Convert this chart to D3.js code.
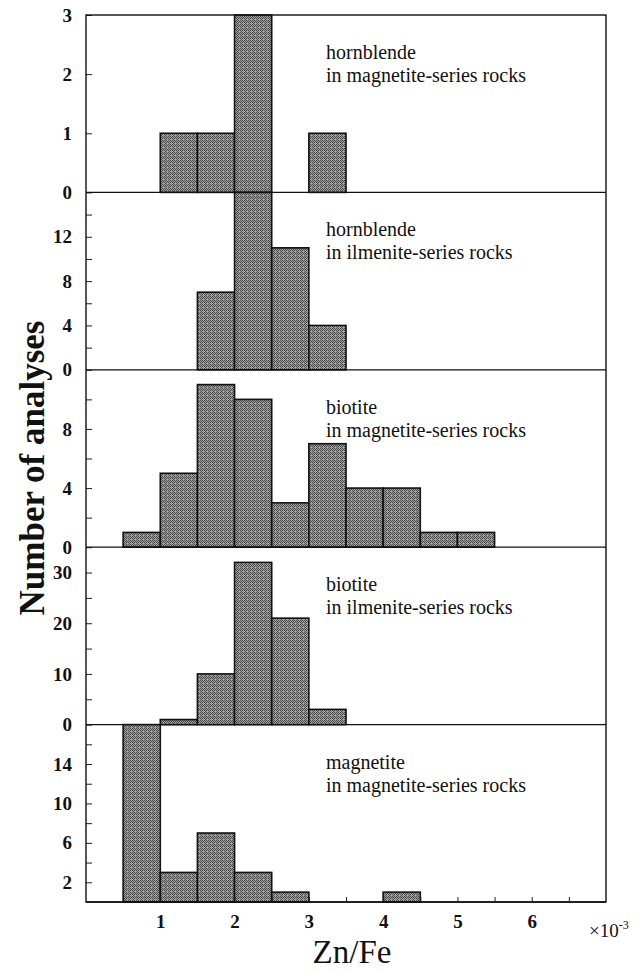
<!DOCTYPE html>
<html>
<head>
<meta charset="utf-8">
<script src="https://cdn.jsdelivr.net/npm/d3@7"></script>
<style>
  html, body { margin: 0; padding: 0; background: #fff; }
  svg { display: block; }
  text { font-family: "Liberation Serif", "Times New Roman", serif; fill: #111; }
</style>
</head>
<body>
<svg id="chart" width="641" height="972"></svg>
<script>
// Zn/Fe histograms, bin width 0.5 (x10^-3)
const binStarts = [0.5, 1.0, 1.5, 2.0, 2.5, 3.0, 3.5, 4.0, 4.5, 5.0];
const binWidth = 0.5;

const hornblendeMagnetite = [0, 1, 1, 3, 0, 1, 0, 0, 0, 0];
const hornblendeIlmenite  = [0, 0, 7, 16, 11, 4, 0, 0, 0, 0];
const biotiteMagnetite    = [1, 5, 11, 10, 3, 7, 4, 4, 1, 1];
const biotiteIlmenite     = [0, 1, 10, 32, 21, 3, 0, 0, 0, 0];
const magnetiteMagnetite  = [18, 3, 7, 3, 1, 0, 0, 1, 0, 0];

const panelMineral = ["hornblende", "hornblende", "biotite", "biotite", "magnetite"];
const panelSeries  = ["in magnetite-series rocks", "in ilmenite-series rocks",
                      "in magnetite-series rocks", "in ilmenite-series rocks",
                      "in magnetite-series rocks"];
const panelCounts  = [hornblendeMagnetite, hornblendeIlmenite, biotiteMagnetite,
                      biotiteIlmenite, magnetiteMagnetite];
const panelMax     = [3, 16, 12, 35, 18];
const panelTicks   = [[0, 1, 2, 3], [0, 4, 8, 12], [0, 4, 8], [0, 10, 20, 30], [2, 6, 10, 14]];
const panelMinor   = [[], [2, 6, 10, 14], [2, 6, 10], [5, 15, 25], [4, 8, 12, 16]];

const xTickLabels = [1, 2, 3, 4, 5, 6];
const xTickMarks  = [0.5, 1, 1.5, 2, 2.5, 3, 3.5, 4, 4.5, 5, 5.5, 6, 6.5];
const xDomain = [0, 7];

const svg = d3.select("#chart");
const plotLeft = 86, plotRight = 606, plotTop = 15, plotBottom = 902;
const panelH = (plotBottom - plotTop) / panelCounts.length;

const x = d3.scaleLinear().domain(xDomain).range([plotLeft, plotRight]);

// stippled grey fill for the bars
const defs = svg.append("defs");
const pat = defs.append("pattern")
  .attr("id", "stipple").attr("patternUnits", "userSpaceOnUse")
  .attr("width", 4).attr("height", 4);
pat.append("rect").attr("width", 4).attr("height", 4).attr("fill", "#a0a0a0");
[[0,0],[2,0],[1,1],[3,1],[0,2],[2,2],[1,3]].forEach(([px, py]) => {
  pat.append("rect").attr("x", px).attr("y", py).attr("width", 1).attr("height", 1).attr("fill", "#4a4a4a");
});

panelCounts.forEach((counts, i) => {
  const y0 = plotTop + i * panelH, y1 = y0 + panelH;
  const y = d3.scaleLinear().domain([0, panelMax[i]]).range([y1, y0]);
  const g = svg.append("g");

  const bins = binStarts.map((s, j) => ({ start: s, count: counts[j] })).filter(d => d.count > 0);
  g.selectAll("rect.bar").data(bins).join("rect")
    .attr("class", "bar")
    .attr("x", d => x(d.start))
    .attr("width", d => x(d.start + binWidth) - x(d.start))
    .attr("y", d => y(d.count))
    .attr("height", d => y(0) - y(d.count))
    .attr("fill", "url(#stipple)")
    .attr("stroke", "#111")
    .attr("stroke-width", 1.6);

  // labelled ticks
  const ax = g.append("g").attr("transform", `translate(${plotLeft},0)`)
    .call(d3.axisLeft(y).tickValues(panelTicks[i]).tickFormat(d3.format("d"))
      .tickSize(-6).tickPadding(14));
  ax.select(".domain").remove();
  ax.selectAll("line").attr("stroke", "#222").attr("stroke-width", 1);
  ax.selectAll("text").attr("font-size", 19).attr("font-weight", "bold")
    .style("font-family", "'Liberation Serif', serif");

  // minor ticks
  const mx = g.append("g").attr("transform", `translate(${plotLeft},0)`)
    .call(d3.axisLeft(y).tickValues(panelMinor[i]).tickFormat("").tickSize(-6));
  mx.select(".domain").remove();
  mx.selectAll("line").attr("stroke", "#222").attr("stroke-width", 1);

  // panel caption
  const cap = g.append("text").attr("x", 326).attr("y", y0 + 44).attr("font-size", 20);
  cap.append("tspan").attr("x", 326).text(panelMineral[i]);
  cap.append("tspan").attr("x", 326).attr("dy", 23).text(panelSeries[i]);

  // panel baseline
  g.append("line").attr("x1", plotLeft).attr("x2", plotRight)
    .attr("y1", y1).attr("y2", y1)
    .attr("stroke", "#111").attr("stroke-width", 1.3);
});

// bottom axis
const bx = svg.append("g").attr("transform", `translate(0,${plotBottom})`)
  .call(d3.axisBottom(x).tickValues(xTickMarks)
    .tickFormat(d => xTickLabels.includes(d) ? d3.format("d")(d) : "")
    .tickSize(-5).tickPadding(13));
bx.select(".domain").remove();
bx.selectAll("line").attr("stroke", "#222").attr("stroke-width", 1);
bx.selectAll("text").attr("font-size", 19).attr("font-weight", "bold")
  .style("font-family", "'Liberation Serif', serif");

// frame
svg.append("rect").attr("x", plotLeft).attr("y", plotTop)
  .attr("width", plotRight - plotLeft).attr("height", plotBottom - plotTop)
  .attr("fill", "none").attr("stroke", "#111").attr("stroke-width", 1.4);

// multiplier
const mult = svg.append("text").attr("x", 589).attr("y", 937).attr("font-size", 19);
mult.append("tspan").text("\u00d710");
mult.append("tspan").attr("dy", -8).attr("font-size", 12).text("-3");

// axis titles
svg.append("text").attr("x", 352).attr("y", 963)
  .attr("text-anchor", "middle").attr("font-size", 33).text("Zn/Fe");

svg.append("text")
  .attr("transform", "translate(44,468) rotate(-90)")
  .attr("text-anchor", "middle").attr("font-size", 35).attr("font-weight", "bold")
  .text("Number of analyses");
</script>
</body>
</html>
